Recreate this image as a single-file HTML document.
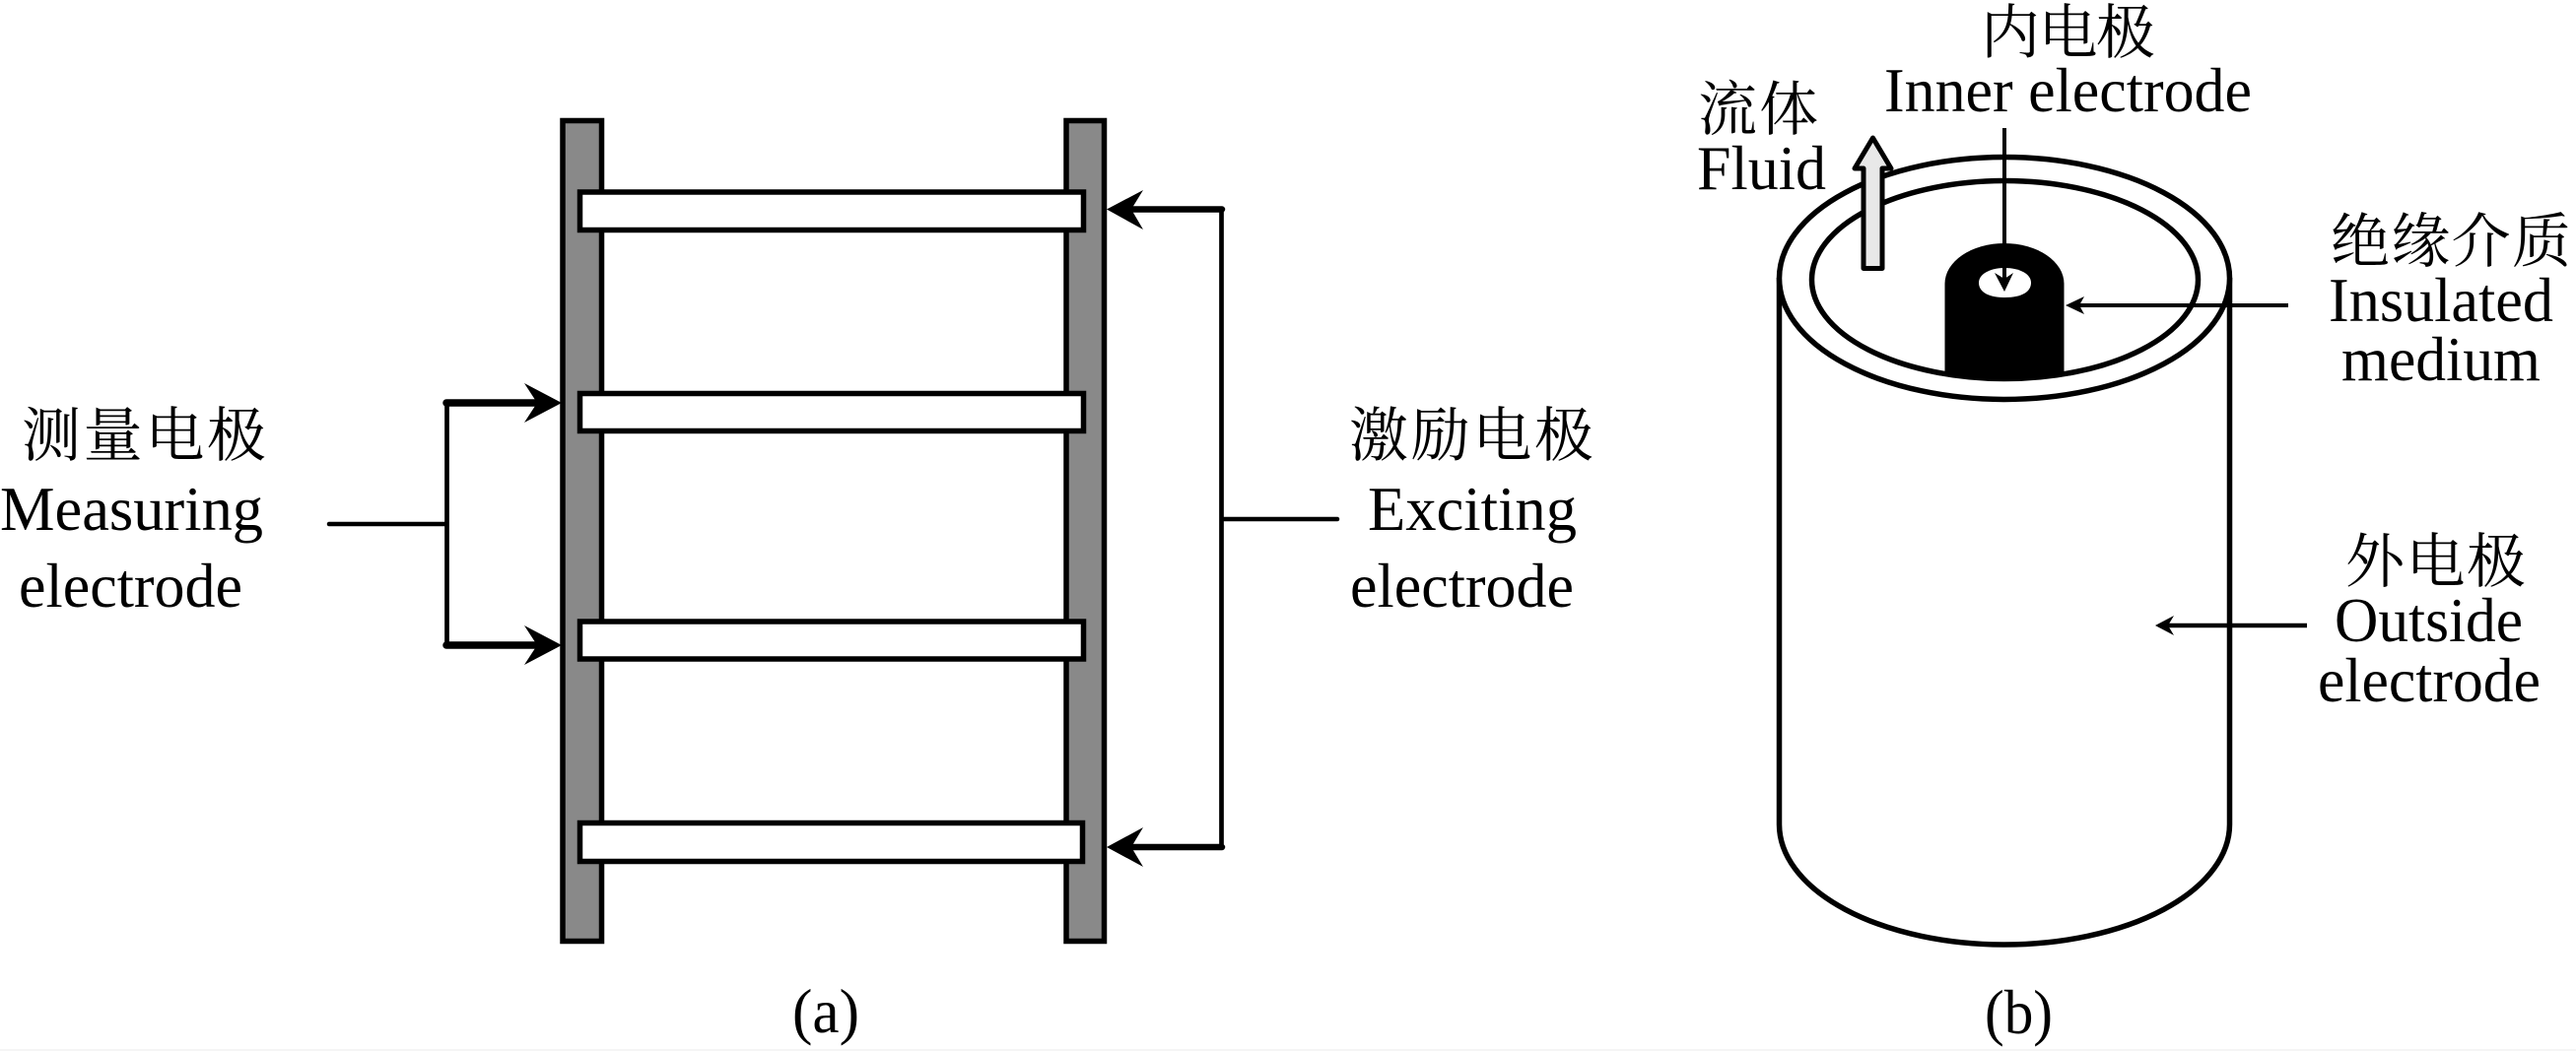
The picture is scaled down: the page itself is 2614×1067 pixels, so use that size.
<!DOCTYPE html>
<html>
<head>
<meta charset="utf-8">
<style>
html,body{margin:0;padding:0;background:#fff;width:2614px;height:1067px;overflow:hidden}
svg{display:block}
.e{font-family:"Liberation Serif",serif;font-size:64px;fill:#000}
.c{font-family:"Liberation Serif","Noto Serif CJK SC",serif;font-size:60px;fill:#000}
</style>
</head>
<body>
<svg width="2614" height="1067" viewBox="0 0 2614 1067" xmlns="http://www.w3.org/2000/svg">
<rect width="2614" height="1067" fill="#fff"/>
<rect y="1065" width="2614" height="2" fill="#f5f5f5"/>

<!-- (a) bars -->
<rect x="571" y="122.500" width="39.500" height="833" fill="#898989" stroke="#000" stroke-width="5.500"/>
<rect x="1082" y="122.500" width="38.500" height="833" fill="#898989" stroke="#000" stroke-width="5.500"/>
<g fill="#fff" stroke="#000" stroke-width="5.500">
<rect x="588.500" y="195" width="511" height="38.500"/>
<rect x="588.500" y="399.500" width="511" height="38"/>
<rect x="588.500" y="631" width="511" height="38"/>
<rect x="588.500" y="835.500" width="510" height="39"/>
</g>

<!-- (a) connectors -->
<g fill="none" stroke="#000" stroke-linecap="round">
<path d="M334 532H453" stroke-width="4.500"/>
<path d="M453.500 409V655" stroke-width="4.700"/>
<path d="M453 409H548M453 655H548" stroke-width="7.500"/>
<path d="M1239.500 212V860" stroke-width="4.700"/>
<path d="M1240 527H1357" stroke-width="4.500"/>
<path d="M1240 212.500H1145M1240 860H1145" stroke-width="6.500"/>
</g>
<g fill="#000">
<path d="M570 409L532 389L545 409L532 429Z"/>
<path d="M570 655L532 635L545 655L532 675Z"/>
<path d="M1123 212.500L1160 193L1148 212.500L1160 233Z"/>
<path d="M1123 860L1160 840L1148 860L1160 880Z"/>
</g>

<!-- (a) labels -->
<text class="c" x="22" y="463" textLength="248" lengthAdjust="spacing">测量电极</text>
<text class="e" x="0" y="538" textLength="267" lengthAdjust="spacingAndGlyphs">Measuring</text>
<text class="e" x="19" y="616" textLength="227" lengthAdjust="spacingAndGlyphs">electrode</text>
<text class="c" x="1369" y="463" textLength="248" lengthAdjust="spacing">激励电极</text>
<text class="e" x="1388" y="538" textLength="212" lengthAdjust="spacingAndGlyphs">Exciting</text>
<text class="e" x="1370" y="616" textLength="227" lengthAdjust="spacingAndGlyphs">electrode</text>
<text class="e" x="804" y="1048" textLength="68" lengthAdjust="spacingAndGlyphs">(a)</text>

<!-- (b) cylinder -->
<path d="M1805.500 282V837A228.500 122 0 0 0 2262.500 837V282" fill="#fff" stroke="#000" stroke-width="5.500"/>
<ellipse cx="2034" cy="282.500" rx="228.500" ry="123" fill="#fff" stroke="#000" stroke-width="5.500"/>
<ellipse cx="2034.500" cy="284" rx="196" ry="100.500" fill="#fff" stroke="#000" stroke-width="5.500"/>

<!-- inner electrode -->
<path d="M1973.500 378V288A60.500 41 0 0 1 2094.500 288V378A196 100.500 0 0 1 2034.500 387A196 100.500 0 0 1 1973.500 378Z" fill="#000"/>
<path d="M2008 287C2008 278 2020 272 2034.500 272C2049 272 2061 278 2061 287C2061 296 2052 302 2034.500 302C2017 302 2008 296 2008 287Z" fill="#fff"/>
<path d="M2034 130V286" stroke="#000" stroke-width="4" fill="none"/>
<path d="M2034 296L2024 277L2034 283L2043 277Z" fill="#000"/>

<!-- fluid arrow -->
<path d="M1900.500 140L1919 171H1910V272.500H1891V171H1882Z" fill="#e8e8e8" stroke="#000" stroke-width="5" stroke-linejoin="round"/>

<!-- leaders -->
<path d="M2322 310H2108" stroke="#000" stroke-width="4" fill="none"/>
<path d="M2096 310L2115 301L2110 310L2115 319Z" fill="#000"/>
<path d="M2341 635H2200" stroke="#000" stroke-width="4.500" fill="none"/>
<path d="M2187 635L2206 625L2200 635L2206 645Z" fill="#000"/>

<!-- (b) labels -->
<text class="c" x="2010" y="54" textLength="177" lengthAdjust="spacing">内电极</text>
<text class="e" x="1912" y="113" textLength="373" lengthAdjust="spacingAndGlyphs">Inner electrode</text>
<text class="c" x="1723" y="132" textLength="122" lengthAdjust="spacing">流体</text>
<text class="e" x="1722" y="192" textLength="131" lengthAdjust="spacingAndGlyphs">Fluid</text>
<text class="c" x="2365" y="266" textLength="244" lengthAdjust="spacing">绝缘介质</text>
<text class="e" x="2363" y="326" textLength="228" lengthAdjust="spacingAndGlyphs">Insulated</text>
<text class="e" x="2376" y="386" textLength="202" lengthAdjust="spacingAndGlyphs">medium</text>
<text class="c" x="2380" y="591" textLength="183" lengthAdjust="spacing">外电极</text>
<text class="e" x="2369" y="651" textLength="191" lengthAdjust="spacingAndGlyphs">Outside</text>
<text class="e" x="2352" y="712" textLength="226" lengthAdjust="spacingAndGlyphs">electrode</text>
<text class="e" x="2014" y="1049" textLength="69" lengthAdjust="spacingAndGlyphs">(b)</text>
</svg>
</body>
</html>
